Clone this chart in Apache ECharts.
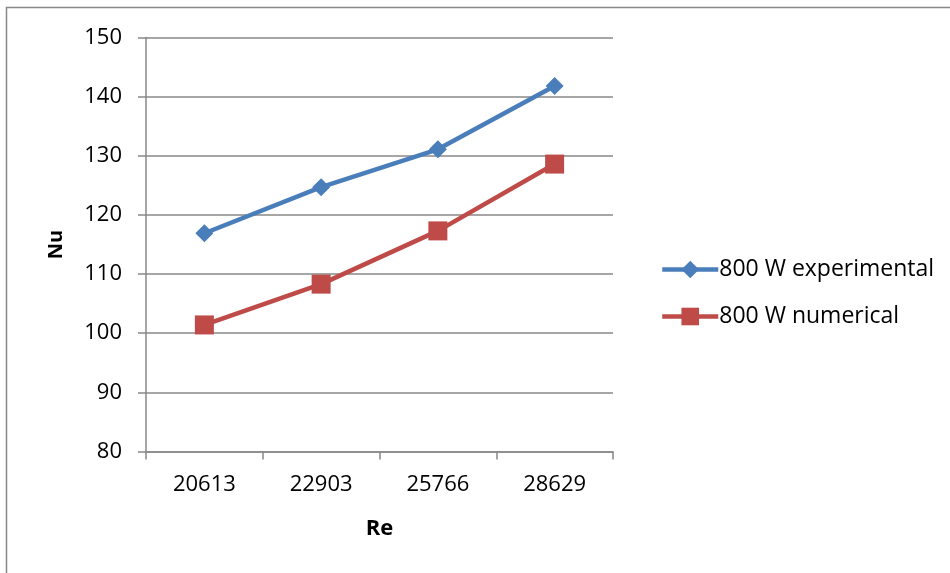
<!DOCTYPE html>
<html>
<head>
<meta charset="utf-8">
<script src="https://cdn.jsdelivr.net/npm/echarts@6/dist/echarts.min.js"></script>
<style>
  html, body { margin: 0; padding: 0; background: #fff; }
  #chart { width: 950px; height: 573px; }
</style>
</head>
<body>
<div id="chart"></div>
<script>
// Reynolds numbers on the x axis
const reValues = ['20613', '22903', '25766', '28629'];
// Nusselt numbers per series
const nuExperimental = [116.9, 124.7, 131.1, 141.8];
const nuNumerical = [101.4, 108.3, 117.3, 128.6];
const seriesNames = ['800 W experimental', '800 W numerical'];

const FONT = '"Open Sans", "Liberation Sans", sans-serif';
const chart = echarts.init(document.getElementById('chart'), null, { renderer: 'canvas' });

chart.setOption({
  backgroundColor: '#fff',
  animation: false,
  textStyle: { fontFamily: FONT },
  graphic: [{
    type: 'rect',
    shape: { x: 6.5, y: 7.5, width: 1000, height: 1000 },
    style: { fill: 'none', stroke: '#888', lineWidth: 1.5 },
    silent: true
  }],
  grid: { left: 146, right: 337, top: 37.5, bottom: 121.5 },
  legend: {
    orient: 'vertical',
    left: 655,
    top: 253,
    itemWidth: 56,
    itemHeight: 22,
    itemGap: 24,
    lineStyle: { width: 4.5 },
    textStyle: { fontSize: 23, color: '#000', fontFamily: FONT, padding: [0, 0, 0, -4] },
    data: seriesNames
  },
  xAxis: {
    type: 'category',
    data: reValues,
    boundaryGap: true,
    name: 'Re',
    nameLocation: 'middle',
    nameGap: 66,
    nameTextStyle: { fontSize: 22, fontWeight: 'bold', color: '#000', fontFamily: FONT },
    axisLine: { lineStyle: { color: '#888', width: 1.5 } },
    axisTick: { show: true, length: 8, alignWithLabel: false, lineStyle: { color: '#888', width: 1.5 } },
    axisLabel: { fontSize: 22, color: '#000', margin: 22, fontFamily: FONT }
  },
  yAxis: {
    type: 'value',
    min: 80,
    max: 150,
    interval: 10,
    name: 'Nu',
    nameLocation: 'middle',
    nameGap: 80,
    nameRotate: 90,
    nameTextStyle: { fontSize: 20, fontWeight: 'bold', color: '#000', fontFamily: FONT },
    axisLine: { show: true, lineStyle: { color: '#888', width: 1.5 } },
    axisTick: { show: true, length: 8, lineStyle: { color: '#888', width: 1.5 } },
    axisLabel: { fontSize: 22, color: '#000', margin: 24, fontFamily: FONT },
    splitLine: { lineStyle: { color: '#888', width: 1.5 } }
  },
  series: [
    {
      name: seriesNames[0],
      type: 'line',
      data: nuExperimental,
      symbol: 'diamond',
      symbolSize: 18,
      color: '#4A7EBB',
      lineStyle: { width: 4.5, color: '#4A7EBB' },
      itemStyle: { color: '#4A7EBB' }
    },
    {
      name: seriesNames[1],
      type: 'line',
      data: nuNumerical,
      symbol: 'rect',
      symbolSize: 19,
      color: '#BE4B48',
      lineStyle: { width: 4.5, color: '#BE4B48' },
      itemStyle: { color: '#BE4B48' }
    }
  ]
});
</script>
</body>
</html>
